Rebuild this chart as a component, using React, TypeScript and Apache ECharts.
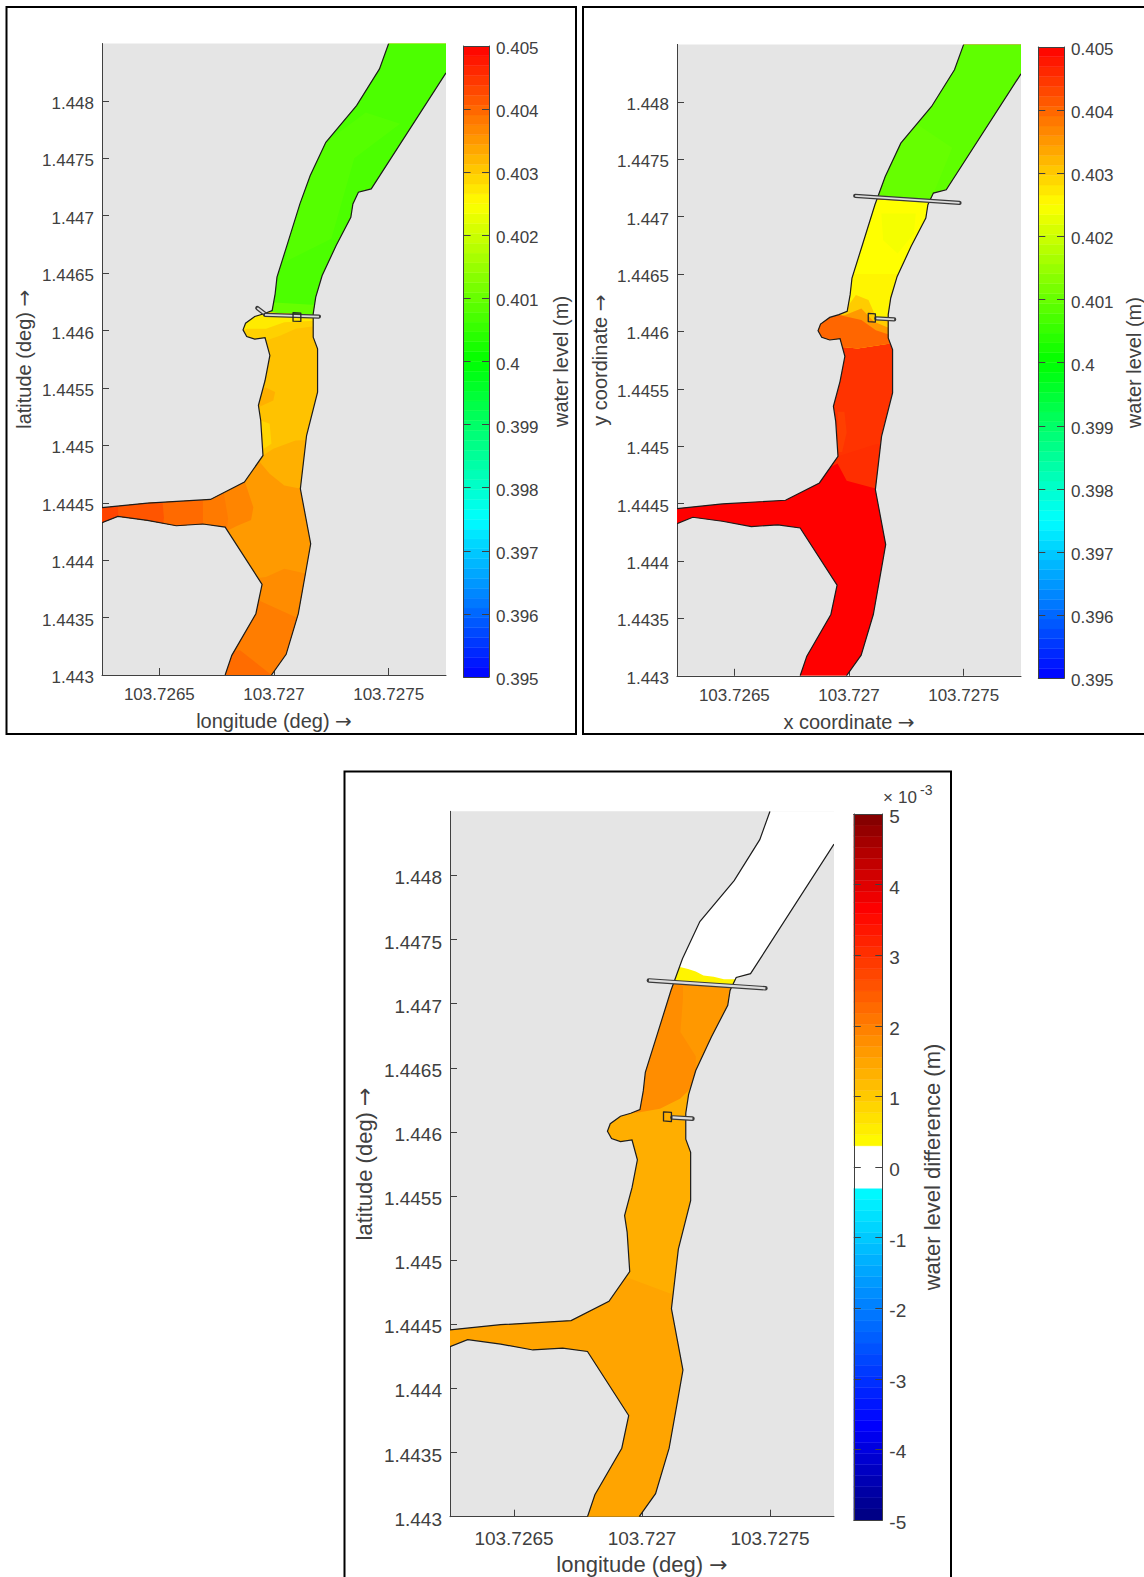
import React, { useEffect, useRef } from "react";
import * as echarts from "echarts";

const xTicks = [103.7265, 103.727, 103.7275];
const yTicks = [1.443, 1.4435, 1.444, 1.4445, 1.445, 1.4455, 1.446, 1.4465, 1.447, 1.4475, 1.448];
const levelTicks = [0.395, 0.396, 0.397, 0.398, 0.399, 0.4, 0.401, 0.402, 0.403, 0.404, 0.405];
const diffTicks = [-5, -4, -3, -2, -1, 0, 1, 2, 3, 4, 5];

const levelStops: [number, string][] = [[0.395, "#0000ff"], [0.3975, "#00ffff"], [0.4, "#00ff00"], [0.4025, "#ffff00"], [0.405, "#ff0000"]];
const diffStops: [number, string][] = [[-5, "#00007f"], [-3.65, "#0000ff"], [-0.3, "#00ffff"], [0.3, "#ffff00"], [3.65, "#ff0000"], [5, "#7f0000"]];

const leftBank = [
  [103.7275, 1.4485], [103.72746, 1.448279], [103.72736, 1.447959], [103.727226, 1.44764], [103.727158, 1.44735],
  [103.727113, 1.447103], [103.727061, 1.44677], [103.727013, 1.446465], [103.727005, 1.44632], [103.726992, 1.446175],
  [103.726956, 1.446146], [103.726916, 1.446122], [103.726876, 1.446064], [103.726865, 1.446006], [103.726881, 1.445948],
  [103.726916, 1.445925], [103.726961, 1.445937], [103.726982, 1.445783], [103.726961, 1.445565], [103.726932, 1.445348],
  [103.726942, 1.445217], [103.726952, 1.444912], [103.726871, 1.44468], [103.726723, 1.444529], [103.726448, 1.444497],
  [103.72625, 1.444457],
];
const lowerBank = [
  [103.72625, 1.444326], [103.726319, 1.444381], [103.726448, 1.444346], [103.726574, 1.4443], [103.72669, 1.444315],
  [103.726787, 1.444288], [103.726948, 1.443789], [103.726921, 1.443534], [103.726816, 1.443171], [103.726787, 1.443],
];
const rightBank = [
  [103.726989, 1.443], [103.727053, 1.44318], [103.727106, 1.443534], [103.727137, 1.443882], [103.72716, 1.444143],
  [103.727115, 1.444622], [103.727142, 1.445086], [103.72719, 1.445464], [103.72719, 1.445841], [103.727171, 1.445943],
  [103.727171, 1.446146], [103.727182, 1.446291], [103.72721, 1.446479], [103.727271, 1.446741], [103.727335, 1.446987],
  [103.727344, 1.447103], [103.727368, 1.447205], [103.727424, 1.447234], [103.72775, 1.448244],
];
const riverCorner = [[103.7279, 1.4486], [103.72749, 1.4486]];

const L = 103.72625, R = 103.7279, B = 1.443, T = 1.4486;

// Water level, first panel: [value, polygon in lon/lat]
const patchesFirst: [number, number[][]][] = [
  [0.4031, [[L, B], [R, B], [R, T], [L, T]]],
  [0.40075, [[103.7269, 1.44617], [103.7272, 1.44613], [R, 1.44613], [R, T], [103.7269, T]]],
  [0.40083, [[103.72705, 1.4466], [103.72725, 1.4468], [103.72735, 1.4475], [103.72755, 1.4478], [103.7274, 1.4479], [103.7272, 1.4476], [103.7271, 1.4471]]],
  [0.4010, [[103.72695, 1.44617], [103.7272, 1.44613], [103.7272, 1.44622], [103.72695, 1.44625]]],
  [0.40295, [[103.726852, 1.446175], [103.727174, 1.446131], [103.7272, 1.446044], [103.727094, 1.446015], [103.727029, 1.445957], [103.726965, 1.445913], [103.726852, 1.445913]]],
  [0.4027, [[103.726852, 1.446175], [103.727174, 1.446131], [103.7272, 1.446088], [103.727045, 1.446073], [103.726965, 1.446015], [103.726852, 1.446015]]],
  [0.4029, [[103.726942, 1.445217], [103.726981, 1.445188], [103.726989, 1.445014], [103.726956, 1.44497]]],
  [0.40327, [[103.726961, 1.445507], [103.727005, 1.445464], [103.726997, 1.445391], [103.726932, 1.445333], [103.726932, 1.44542]]],
  [0.40327, [[L, 1.444912], [103.726952, 1.444912], [103.726997, 1.44497], [103.727094, 1.445043], [R, 1.445101], [R, B], [L, B]]],
  [0.40349, [[L, 1.44487], [103.726932, 1.444869], [103.726981, 1.444753], [103.727045, 1.444651], [103.727118, 1.444622], [R, 1.444622], [R, B], [L, B]]],
  [0.4037, [[L, 1.4447], [103.72687, 1.4447], [103.72691, 1.44446], [103.7269, 1.44435], [103.72684, 1.4443], [103.72679, 1.44425], [L, 1.44425]]],
  [0.4038, [[L, 1.4446], [103.72678, 1.4446], [103.7268, 1.44436], [103.72679, 1.4442], [L, 1.4442]]],
  [0.40396, [[L, 1.4446], [103.72669, 1.4446], [103.72669, 1.4442], [L, 1.4442]]],
  [0.40417, [[L, 1.4446], [103.72651, 1.4446], [103.72652, 1.44437], [103.72651, 1.4442], [L, 1.4442]]],
  [0.40433, [[L, 1.4446], [103.72632, 1.4446], [103.72632, 1.4442], [L, 1.4442]]],
  [0.40363, [[103.7266, B], [103.7266, 1.443766], [103.726965, 1.443853], [103.727045, 1.443926], [103.727142, 1.443882], [R, 1.44385], [R, B]]],
  [0.40377, [[103.7266, B], [103.7266, 1.44365], [103.726932, 1.44365], [103.72711, 1.44349], [R, 1.44349], [R, B]]],
  [0.40394, [[103.7266, B], [103.7266, 1.443171], [103.726852, 1.443215], [103.726989, B]]],
];

// Water level, second panel
const patchesSecond: [number, number[][]][] = [
  [0.4045, [[L, B], [R, B], [R, T], [L, T]]],
  [0.40093, [[103.7268, 1.44718], [R, 1.44712], [R, T], [103.7268, T]]],
  [0.4010, [[103.72705, 1.44718], [103.72736, 1.44716], [103.72745, 1.4476], [103.7273, 1.4478], [103.72715, 1.4476]]],
  [0.4026, [[103.7268, 1.44718], [103.7274, 1.44712], [103.7274, 1.4459], [103.7268, 1.4459]]],
  [0.4025, [[103.7268, 1.44718], [103.7274, 1.44712], [103.7274, 1.4465], [103.7268, 1.4465]]],
  [0.4024, [[103.727141, 1.447027], [103.727291, 1.447027], [103.727283, 1.446853], [103.727212, 1.446679], [103.727149, 1.446795]]],
  [0.403, [[103.726983, 1.446186], [103.72703, 1.446316], [103.727085, 1.446273], [103.727117, 1.446128], [103.72718, 1.446084], [103.72718, 1.445895], [103.727038, 1.445852], [103.726959, 1.445866], [103.726848, 1.445924], [103.726848, 1.446157]]],
  [0.4035, [[103.726983, 1.446142], [103.727054, 1.4462], [103.727109, 1.446084], [103.72718, 1.446026], [103.72718, 1.445895], [103.727038, 1.445852], [103.726959, 1.445866], [103.726848, 1.445924], [103.726848, 1.446128]]],
  [0.404, [[103.726927, 1.446157], [103.727054, 1.446099], [103.727117, 1.446011], [103.72718, 1.445968], [103.72718, 1.445895], [103.727038, 1.445852], [103.726959, 1.445866], [103.726848, 1.445924], [103.726848, 1.446128]]],
  [0.40438, [[103.72695, 1.4453], [103.72698, 1.4453], [103.72699, 1.44512], [103.72697, 1.44495], [103.72695, 1.44495]]],
  [0.40455, [[103.7269, 1.4449], [103.72695, 1.44491], [103.72712, 1.44502], [103.7273, 1.44502], [103.7273, 1.4446], [103.7269, 1.4446]]],
  [0.405, [[L, 1.4448], [103.7269, 1.4448], [103.72695, 1.44485], [103.72699, 1.4447], [103.72712, 1.44463], [103.7273, 1.44463], [103.7273, B], [L, B]]],
];

// Water level difference (x 10^-3), third panel
const patchesThird: [number, number[][]][] = [
  [1.37, [[L, B], [R, B], [R, 1.4473], [L, 1.4473]]],
  [1.8, [[103.72695, 1.44615], [103.72698, 1.44615], [103.72707, 1.44618], [103.72715, 1.44626], [103.72718, 1.44632], [103.7272, 1.44639], [103.7273, 1.44645], [103.7275, 1.44645], [103.7275, 1.44718], [103.72695, 1.44718]]],
  [1.65, [[103.72716, 1.44714], [103.72716, 1.44704], [103.72715, 1.44678], [103.72721, 1.44659], [103.72721, 1.44645], [103.7275, 1.44645], [103.7275, 1.44714]]],
  [0.45, [[103.727, 1.44718], [103.7274, 1.44712], [103.7274, 1.4473], [103.727, 1.4473]]],
  [0, [[103.7271, 1.4473], [103.72714, 1.44729], [103.72718, 1.44727], [103.72721, 1.44725], [103.72724, 1.44722], [103.72728, 1.44721], [103.72732, 1.44719], [103.72735, 1.44719], [R, 1.44719], [R, T], [103.7271, T]]],
  [1.5, [[L, 1.44486], [103.72695, 1.44486], [103.72711, 1.44474], [103.7273, 1.44474], [103.7273, B], [L, B]]],
];

const barsFirst = [
  [[103.726927, 1.446196], [103.726961, 1.446144]],
  [[103.726961, 1.446136], [103.727196, 1.446122]],
];
const boxFirst = [[103.727083, 1.446155], [103.727117, 1.446152], [103.727117, 1.446079], [103.727083, 1.446082]];
const barsOther = [
  [[103.727027, 1.447181], [103.727482, 1.44712]],
  [[103.727119, 1.446113], [103.727197, 1.446104]],
];
const boxOther = [[103.727084, 1.446157], [103.727115, 1.446152], [103.727115, 1.446081], [103.727084, 1.446086]];

const INK = "#404040";
const FONT = "Liberation Sans";

function hex(c: string) {
  return [1, 3, 5].map((i) => parseInt(c.slice(i, i + 2), 16));
}
function colorAt(stops: [number, string][], v: number) {
  if (v <= stops[0][0]) return stops[0][1];
  for (let i = 1; i < stops.length; i++) {
    if (v <= stops[i][0]) {
      const [a, ca] = stops[i - 1];
      const [b, cb] = stops[i];
      const t = (v - a) / (b - a);
      const A = hex(ca), C = hex(cb);
      return `rgb(${A.map((x, k) => Math.round(x + (C[k] - x) * t)).join(",")})`;
    }
  }
  return stops[stops.length - 1][1];
}
const levelColor = (v: number) => colorAt(levelStops, v);
const diffColor = (v: number) => (Math.abs(v) < 0.3 ? "#ffffff" : colorAt(diffStops, v));

function bands(min: number, max: number, n: number) {
  const out: number[][] = [];
  for (let i = 0; i < n; i++) out.push([min + ((max - min) * i) / n, min + ((max - min) * (i + 1)) / n]);
  return out;
}

const river = [...leftBank, ...lowerBank, ...rightBank, ...riverCorner];
const banks = [leftBank, lowerBank, rightBank];

function arrowName(text: string, fs: number) {
  return {
    name: `{t|${text} }{a|→}`,
    nameTextStyle: {
      color: INK,
      rich: {
        t: { color: INK, fontSize: fs, fontFamily: FONT },
        a: { color: INK, fontSize: fs, fontFamily: "DejaVu Sans" },
      },
    },
  };
}

function build() {
  const grid: any[] = [], xAxis: any[] = [], yAxis: any[] = [], series: any[] = [];

  const addPanel = (g: any, fs: number, ts: number, xName: string, yName: string, yGap: number, xGap: number, xMargin: number,
    patches: [number, number[][]][], color: (v: number) => string, bars: number[][][], box: number[][], barW: number) => {
    const gi = grid.length;
    grid.push({ ...g, show: true, backgroundColor: "#e5e5e5", borderWidth: 0, outerBoundsMode: "none" });
    const xi = xAxis.length, yi = yAxis.length;
    const line = { show: true, onZero: false, lineStyle: { color: INK, width: 1 } };
    xAxis.push({
      gridIndex: gi, type: "value", min: 103.72625, max: 103.72775, position: "bottom", scale: true,
      ...arrowName(xName, ts), nameLocation: "middle", nameGap: xGap,
      axisLine: line, splitLine: { show: false },
      axisTick: { show: true, inside: true, length: 7, customValues: xTicks, lineStyle: { color: INK } },
      axisLabel: { show: true, customValues: xTicks, margin: xMargin, color: INK, fontSize: fs, fontFamily: FONT, formatter: (v: number) => String(v) },
    });
    yAxis.push({
      gridIndex: gi, type: "value", min: 1.443, max: 1.4485, position: "left", scale: true,
      ...arrowName(yName, ts), nameLocation: "middle", nameGap: yGap, nameRotate: 90,
      axisLine: line, splitLine: { show: false },
      axisTick: { show: true, inside: true, length: 7, customValues: yTicks, lineStyle: { color: INK } },
      axisLabel: { show: true, customValues: yTicks, margin: 8, verticalAlign: "top", lineHeight: 5, color: INK, fontSize: fs, fontFamily: FONT, formatter: (v: number) => String(v) },
    });
    const base = { type: "custom", coordinateSystem: "cartesian2d", xAxisIndex: xi, yAxisIndex: yi, clip: true, silent: true, encode: { x: 0, y: 1 } };
    series.push({
      ...base, z: 2,
      data: patches.map((p, i) => [p[1][0][0], p[1][0][1], i]),
      renderItem: (_: any, api: any) => {
        const p = patches[api.value(2)];
        return {
          type: "polygon",
          shape: { points: p[1].map((c) => api.coord(c)) },
          style: { fill: color(p[0]) },
          clipPath: { type: "polygon", shape: { points: river.map((c) => api.coord(c)) } },
        };
      },
    });
    series.push({
      ...base, z: 3,
      data: banks.map((b, i) => [b[0][0], b[0][1], i]),
      renderItem: (_: any, api: any) => ({
        type: "polyline",
        shape: { points: banks[api.value(2)].map((c) => api.coord(c)) },
        style: { fill: "none", stroke: "#1c1c1c", lineWidth: 1.2 },
      }),
    });
    series.push({
      ...base, z: 4,
      data: bars.map((b, i) => [b[0][0], b[0][1], i]),
      renderItem: (_: any, api: any) => {
        const pts = bars[api.value(2)].map((c) => api.coord(c));
        return {
          type: "group",
          children: [
            { type: "polyline", shape: { points: pts }, style: { fill: "none", stroke: "#3a3a3a", lineWidth: barW, lineCap: "round" } },
            { type: "polyline", shape: { points: pts }, style: { fill: "none", stroke: "#dddddd", lineWidth: barW - 2.4 } },
          ],
        };
      },
    });
    series.push({
      ...base, z: 5,
      data: [[box[0][0], box[0][1], 0]],
      renderItem: (_: any, api: any) => ({
        type: "polygon",
        shape: { points: box.map((c) => api.coord(c)) },
        style: { fill: "none", stroke: "#262626", lineWidth: 1.3, lineJoin: "round" },
      }),
    });
  };

  const addBar = (g: any, fs: number, ts: number, min: number, max: number, ticks: number[], name: string, gap: number, labelMargin: number,
    edges: number[][], color: (v: number) => string) => {
    const gi = grid.length;
    grid.push({ ...g, show: false, outerBoundsMode: "none" });
    const xi = xAxis.length, yi = yAxis.length;
    const line = { show: true, onZero: false, lineStyle: { color: INK, width: 1 } };
    for (const position of ["bottom", "top"]) {
      xAxis.push({ gridIndex: gi, type: "value", min: 0, max: 1, position, z: 6, axisLine: line, axisTick: { show: false }, axisLabel: { show: false }, splitLine: { show: false } });
    }
    yAxis.push({
      gridIndex: gi, type: "value", min, max, position: "right", z: 6, scale: true,
      name, nameLocation: "middle", nameGap: gap, nameRotate: 90, nameTextStyle: { color: INK, fontSize: ts, fontFamily: FONT },
      axisLine: line, splitLine: { show: false },
      axisTick: { show: true, inside: true, length: 7, customValues: ticks, lineStyle: { color: INK } },
      axisLabel: { show: true, customValues: ticks, margin: labelMargin, verticalAlign: "top", lineHeight: 5, color: INK, fontSize: fs, fontFamily: FONT, formatter: (v: number) => String(v) },
    });
    yAxis.push({
      gridIndex: gi, type: "value", min, max, position: "left", z: 6, scale: true,
      axisLine: line, splitLine: { show: false },
      axisTick: { show: true, inside: true, length: 7, customValues: ticks, lineStyle: { color: INK } },
      axisLabel: { show: false },
    });
    series.push({
      type: "custom", coordinateSystem: "cartesian2d", xAxisIndex: xi, yAxisIndex: yi, clip: true, silent: true, z: 2, encode: { x: 0, y: 1 },
      data: edges.map((e) => [0, e[0], e[1]]),
      renderItem: (_: any, api: any) => {
        const lo = api.value(1), hi = api.value(2);
        const a = api.coord([0, hi]), b = api.coord([1, lo]);
        const c = color((lo + hi) / 2);
        return { type: "rect", shape: { x: a[0], y: a[1], width: b[0] - a[0], height: b[1] - a[1] }, style: { fill: c, stroke: c, lineWidth: 0.4 } };
      },
    });
  };

  addPanel({ left: 102, top: 43.5, width: 344, height: 631.5 }, 17, 20, "longitude (deg)", "latitude (deg)", 68, 36, 11, patchesFirst, levelColor, barsFirst, boxFirst, 4.2);
  addBar({ left: 463.6, top: 46, width: 25.4, height: 631 }, 17, 20, 0.395, 0.405, levelTicks, "water level (m)", 62, 7, bands(0.395, 0.405, 64), levelColor);
  addPanel({ left: 677, top: 44.4, width: 344, height: 631.4 }, 17, 20, "x coordinate", "y coordinate", 67, 36, 11, patchesSecond, levelColor, barsOther, boxOther, 4.2);
  addBar({ left: 1038.3, top: 47, width: 25.7, height: 631.3 }, 17, 20, 0.395, 0.405, levelTicks, "water level (m)", 60, 7, bands(0.395, 0.405, 64), levelColor);
  addPanel({ left: 450, top: 811.3, width: 384, height: 705.4 }, 19, 22, "longitude (deg)", "latitude (deg)", 75, 37, 12, patchesThird, diffColor, barsOther, boxOther, 4.6);
  addBar({ left: 853.8, top: 814, width: 28.5, height: 706 }, 19, 22, -5, 5, diffTicks, "water level difference (m)", 39, 7,
    [...bands(-5, -0.3, 30), [-0.3, 0.3], ...bands(0.3, 5, 30)], diffColor);

  const frame = (x: number, y: number, width: number, height: number) => ({
    type: "rect", silent: true, z: 20, shape: { x, y, width, height }, style: { fill: "none", stroke: "#000", lineWidth: 2 },
  });
  const graphic = {
    elements: [
      frame(6.5, 7, 569.5, 727),
      frame(583, 7, 570, 727),
      frame(344.5, 771.5, 606.5, 820),
      { type: "text", silent: true, z: 20, x: 883, y: 797, style: { text: "×", fill: INK, fontSize: 17, fontFamily: FONT, verticalAlign: "middle" } },
      { type: "text", silent: true, z: 20, x: 898, y: 797, style: { text: "10", fill: INK, fontSize: 17, fontFamily: FONT, verticalAlign: "middle" } },
      { type: "text", silent: true, z: 20, x: 920, y: 790, style: { text: "-3", fill: INK, fontSize: 14, fontFamily: FONT, verticalAlign: "middle" } },
    ],
  };
  return { animation: false, backgroundColor: "#ffffff", grid, xAxis, yAxis, series, graphic };
}

export default function App() {
  const ref = useRef<HTMLDivElement>(null);
  useEffect(() => {
    const chart = echarts.init(ref.current!, undefined, { renderer: "svg" });
    chart.setOption(build() as any);
    return () => chart.dispose();
  }, []);
  return <div ref={ref} style={{ position: "absolute", left: 0, top: 0, width: 1144, height: 1577 }} />;
}
